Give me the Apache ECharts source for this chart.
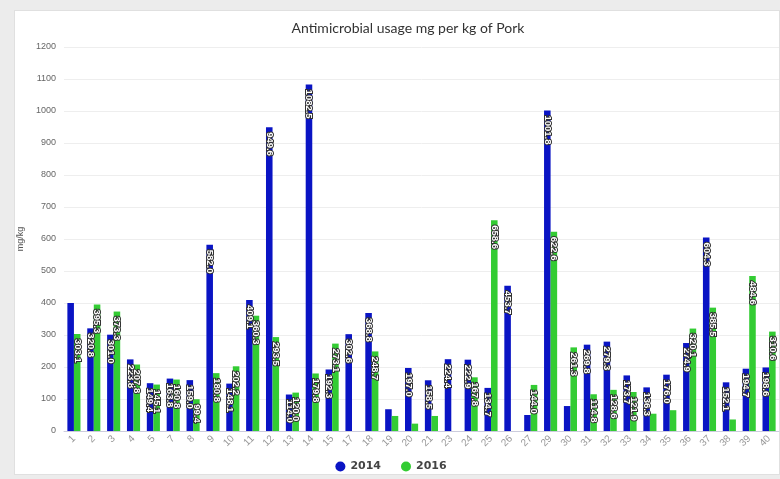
<!DOCTYPE html>
<html>
<head>
<meta charset="utf-8">
<script src="https://cdn.jsdelivr.net/npm/echarts@6/dist/echarts.min.js"></script>
<style>
  html, body { margin: 0; padding: 0; background: #ececec; }
  #panel {
    position: absolute; left: 14px; top: 10px; width: 766px; height: 465px;
    background: #fff; border: 1px solid #e0e0e0; box-sizing: border-box;
  }
  #chart { position: absolute; left: -14px; top: -10px; width: 780px; height: 479px; }
</style>
</head>
<body>
<div id="panel"><div id="chart"></div></div>
<script>
// categories (farm ids)
const categories = ['1', '2', '3', '4', '5', '7', '8', '9', '10', '11', '12', '13', '14', '15', '17', '18', '19', '20',
  '21', '23', '24', '25', '26', '27', '29', '30', '31', '32', '33', '34', '35', '36', '37', '38', '39', '40']

const values2014 = [400, 320.8, 301.0, 223.8, 149.4, 163.8, 159.0, 582.0, 148.1, 409.1, 949.6, 114.0, 1082.5, 192.3,
  302.6, 368.8, 68, 197.0, 158.5, 224.4, 222.9, 134.7, 453.7, 50, 1001.8, 78, 269.8, 279.3, 173.7, 136.3, 176.0,
  274.9, 604.3, 152.1, 194.7, 198.6]

const values2016 = [303.1, 395.3, 373.3, 207.8, 145.1, 160.8, 99.4, 180.8, 202.2, 360.3, 293.5, 120.0, 179.8, 273.1,
  null, 248.7, 47, 23, 47, null, 167.8, 658.6, null, 144.0, 622.6, 261.3, 114.8, 128.6, 121.9, 54, 65,
  320.1, 385.5, 36, 484.6, 310.6]

// bars whose value label is not shown in the original
const noLabel2014 = ['1']

const chart = echarts.init(document.getElementById('chart'))

const barLabel = {
  show: true,
  position: 'insideTop',
  rotate: -90,
  align: 'left',
  verticalAlign: 'middle',
  distance: 5,
  color: '#fff',
  fontSize: 9.5,
  fontWeight: 'bold',
  textBorderColor: '#333',
  textBorderWidth: 2,
  formatter: p => (p.value == null || p.value < 90) ? '' : p.value.toFixed(1)
}

function buildData(values, hidden) {
  return values.map((v, i) => {
    if (v == null) return '-'
    if (hidden && hidden.includes(categories[i])) return { value: v, label: { show: false } }
    return v
  })
}

const option = {
  animation: false,
  title: {
    text: 'Antimicrobial usage mg per kg of Pork',
    left: 402,
    textAlign: 'center',
    top: 15,
    textStyle: { fontSize: 14, fontWeight: 'normal', color: '#333', fontFamily: 'Lato' }
  },
  legend: {
    bottom: 3,
    left: 'center',
    itemGap: 20,
    icon: 'circle',
    itemWidth: 10,
    itemHeight: 10,
    textStyle: { fontSize: 11, fontWeight: 'bold', color: '#444', fontFamily: 'DejaVu Sans' }
  },
  grid: { left: 63, right: 2, top: 46, bottom: 49 },
  xAxis: {
    type: 'category',
    data: categories,
    axisLine: { lineStyle: { color: '#ccd' } },
    axisTick: { lineStyle: { color: '#ccd' } },
    axisLabel: { interval: 0, rotate: 45, color: '#999', fontSize: 10, margin: 6 }
  },
  yAxis: {
    type: 'value',
    min: 0,
    max: 1200,
    interval: 100,
    name: 'mg/kg',
    nameLocation: 'middle',
    nameGap: 26,
    nameTextStyle: { fontSize: 9, color: '#555' },
    axisLabel: { fontSize: 9, color: '#666', margin: 8, formatter: v => String(v) },
    splitLine: { lineStyle: { color: '#eee' } }
  },
  series: [
    {
      name: '2014',
      type: 'bar',
      data: buildData(values2014, noLabel2014),
      itemStyle: { color: '#0a14c4' },
      barGap: '0%',
      barCategoryGap: '34%',
      label: barLabel
    },
    {
      name: '2016',
      type: 'bar',
      data: buildData(values2016),
      itemStyle: { color: '#33cc33' },
      label: barLabel
    }
  ]
}

chart.setOption(option)
</script>
</body>
</html>
